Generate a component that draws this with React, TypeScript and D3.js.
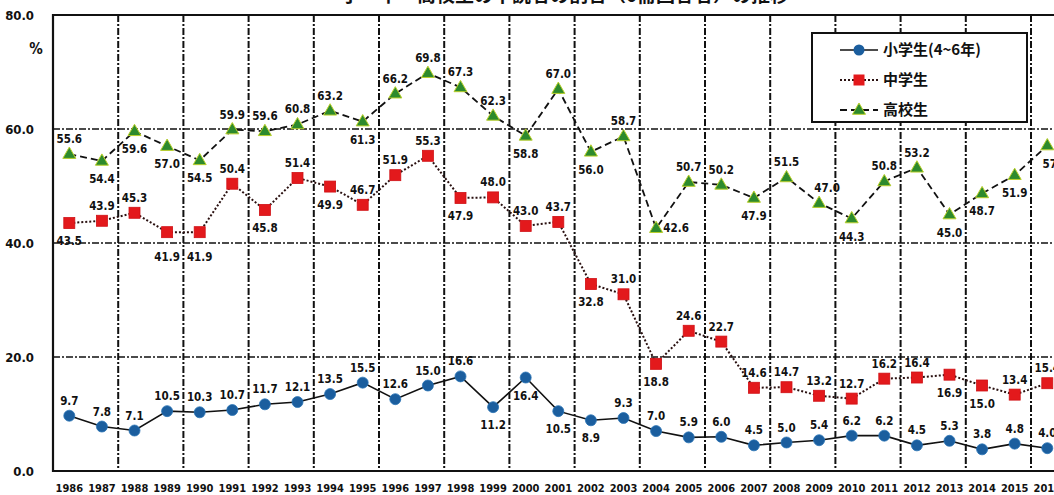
import React from "react";
import * as d3 from "d3";

const years = ["1986","1987","1988","1989","1990","1991","1992","1993","1994","1995","1996","1997","1998","1999","2000","2001","2002","2003","2004","2005","2006","2007","2008","2009","2010","2011","2012","2013","2014","2015","2016"];

const elementary = [9.7,7.8,7.1,10.5,10.3,10.7,11.7,12.1,13.5,15.5,12.6,15.0,16.6,11.2,16.4,10.5,8.9,9.3,7.0,5.9,6.0,4.5,5.0,5.4,6.2,6.2,4.5,5.3,3.8,4.8,4.0];
const middle = [43.5,43.9,45.3,41.9,41.9,50.4,45.8,51.4,49.9,46.7,51.9,55.3,47.9,48.0,43.0,43.7,32.8,31.0,18.8,24.6,22.7,14.6,14.7,13.2,12.7,16.2,16.4,16.9,15.0,13.4,15.4];
const high = [55.6,54.4,59.6,57.0,54.5,59.9,59.6,60.8,63.2,61.3,66.2,69.8,67.3,62.3,58.8,67.0,56.0,58.7,42.6,50.7,50.2,47.9,51.5,47.0,44.3,50.8,53.2,45.0,48.7,51.9,57.1];

const yTicks = [0, 20, 40, 60, 80];
const seriesNames = ["小学生(4~6年)", "中学生", "高校生"];
const title = "小・中・高校生の不読者の割合（0冊回答者）の推移";

// label placement: a = above, b = below, r = right, ar/br = shifted right, bb = further below
const elemPlace = "aaaaaaaaaaaaabbbbaaaaaaaaaaaaaa".split("");
const midPlace = ["b","a","a","bb","bb","a","b","a","b","a","a","a","b","a","a","a","b","a","b","a","a","a","a","a","a","a","a","b","b","a","a"];
const highPlace = ["a","b","b","b","b","a","a","a","a","b","a","a","a","a","b","a","b","a","r","a","a","b","a","ar","b","a","a","b","b","b","br"];

const W = 1054, H = 495;
const FONT = "'Liberation Sans Narrow','DejaVu Sans Condensed','Arial Narrow',sans-serif";
const CJK = "'Noto Sans CJK JP','Noto Sans CJK SC',sans-serif";

const plotLeft = 53, plotRight = 1063.6, plotTop = 15, plotBottom = 471;

export default function App() {
  const x = d3.scaleBand<string>().domain(years).range([plotLeft, plotRight]).padding(0);
  const y = d3.scaleLinear().domain([0, 80]).range([plotBottom, plotTop]);
  const cx = (i: number) => (x(years[i]) as number) + x.bandwidth() / 2;
  const line = d3.line<number>().x((_, i) => cx(i)).y((d) => y(d));

  const gridDash = "7,2,2,2";
  const vGrid = years.map((yr, i) => i).filter((i) => i > 0 && i % 2 === 0);

  const labelPos = (code: string, i: number, v: number) => {
    let dx = 0, dy = -15;
    if (code.startsWith("b")) dy = 18;
    if (code === "bb") dy = 25;
    if (code === "r") { dx = 20; dy = 0; }
    if (code.length === 2 && code[1] === "r") dx = 8;
    return { lx: cx(i) + dx, ly: y(v) + dy };
  };

  const tri = (px: number, py: number, s = 13) => {
    const h = s * 0.87;
    return `M${px},${py - h * 0.62}L${px + s / 2},${py + h * 0.38}L${px - s / 2},${py + h * 0.38}Z`;
  };

  const legendY = [50, 80, 110];

  return (
    <svg width={W} height={H} style={{ position: "absolute", left: 0, top: 0, background: "#fff" }}>
      <rect x={0} y={0} width={W} height={H} fill="#fff" />
      <text x={565} y={2} textAnchor="middle" fontFamily={CJK} fontSize={19} fontWeight="bold" fill="#111">{title}</text>

      {/* horizontal grid */}
      {yTicks.filter((t) => t > 0 && t < 80).map((t) => (
        <line key={"h" + t} x1={plotLeft} x2={plotRight} y1={y(t)} y2={y(t)} stroke="#111" strokeWidth={1.6} strokeDasharray={gridDash} />
      ))}
      {/* vertical grid */}
      {vGrid.map((i) => (
        <line key={"v" + i} x1={x(years[i]) as number} x2={x(years[i]) as number} y1={plotTop} y2={plotBottom} stroke="#111" strokeWidth={2} strokeDasharray={gridDash} />
      ))}
      {/* border */}
      <path d={`M${plotRight},${plotTop}H${plotLeft}V${plotBottom}H${plotRight}`} fill="none" stroke="#111" strokeWidth={2.2} />

      {/* y axis labels */}
      {yTicks.map((t) => (
        <text key={"yt" + t} x={34} y={y(t)} dy="0.35em" textAnchor="end" fontFamily={FONT} fontWeight="bold" fontSize={13} fill="#111">{d3.format(".1f")(t)}</text>
      ))}
      <text x={36} y={49} dy="0.35em" textAnchor="middle" fontFamily={FONT} fontWeight="bold" fontSize={15} fill="#111">%</text>

      {/* x axis labels */}
      {years.map((yr, i) => (
        <text key={"xt" + yr} x={cx(i)} y={488} dy="0.35em" textAnchor="middle" fontFamily={FONT} fontWeight="bold" fontSize={11} fill="#111">{yr}</text>
      ))}

      {/* lines */}
      <path d={line(high) as string} fill="none" stroke="#111" strokeWidth={1.8} strokeDasharray="7,4" />
      <path d={line(middle) as string} fill="none" stroke="#2a1010" strokeWidth={2} strokeDasharray="2,2" />
      <path d={line(elementary) as string} fill="none" stroke="#111" strokeWidth={1.6} />

      {/* markers */}
      {high.map((v, i) => (
        <path key={"mh" + i} d={tri(cx(i), y(v))} fill="#2d8a2d" stroke="#b9cf2a" strokeWidth={1} />
      ))}
      {middle.map((v, i) => (
        <rect key={"mm" + i} x={cx(i) - 5.5} y={y(v) - 5.5} width={11} height={11} fill="#e3191c" stroke="#d01015" strokeWidth={0.8} />
      ))}
      {elementary.map((v, i) => (
        <circle key={"me" + i} cx={cx(i)} cy={y(v)} r={5.5} fill="#1b5e9e" stroke="#2a74b5" strokeWidth={0.8} />
      ))}

      {/* data labels */}
      {[{ d: high, p: highPlace }, { d: middle, p: midPlace }, { d: elementary, p: elemPlace }].map((s, si) =>
        s.d.map((v, i) => {
          const { lx, ly } = labelPos(s.p[i], i, v);
          return (
            <text key={`l${si}-${i}`} x={lx} y={ly} dy="0.35em" textAnchor="middle" fontFamily={FONT} fontWeight="bold" fontSize={11.5} fill="#111">{d3.format(".1f")(v)}</text>
          );
        })
      )}

      {/* legend */}
      <rect x={812} y={33} width={215} height={89} fill="#fff" stroke="#111" strokeWidth={2} />
      {seriesNames.map((n, k) => {
        const ly = legendY[k];
        return (
          <g key={"lg" + k}>
            {k === 0 && <line x1={840} x2={878} y1={ly} y2={ly} stroke="#111" strokeWidth={1.6} />}
            {k === 1 && <line x1={840} x2={878} y1={ly} y2={ly} stroke="#2a1010" strokeWidth={2} strokeDasharray="2,2" />}
            {k === 2 && <line x1={840} x2={878} y1={ly} y2={ly} stroke="#111" strokeWidth={1.8} strokeDasharray="7,4" />}
            {k === 0 && <circle cx={859} cy={ly} r={5.5} fill="#1b5e9e" />}
            {k === 1 && <rect x={853.5} y={ly - 5.5} width={11} height={11} fill="#e3191c" />}
            {k === 2 && <path d={tri(859, ly)} fill="#2d8a2d" stroke="#b9cf2a" strokeWidth={1} />}
            <text x={883} y={ly} dy="0.35em" fontFamily={CJK} fontWeight="bold" fontSize={15} fill="#111">{n}</text>
          </g>
        );
      })}
    </svg>
  );
}
